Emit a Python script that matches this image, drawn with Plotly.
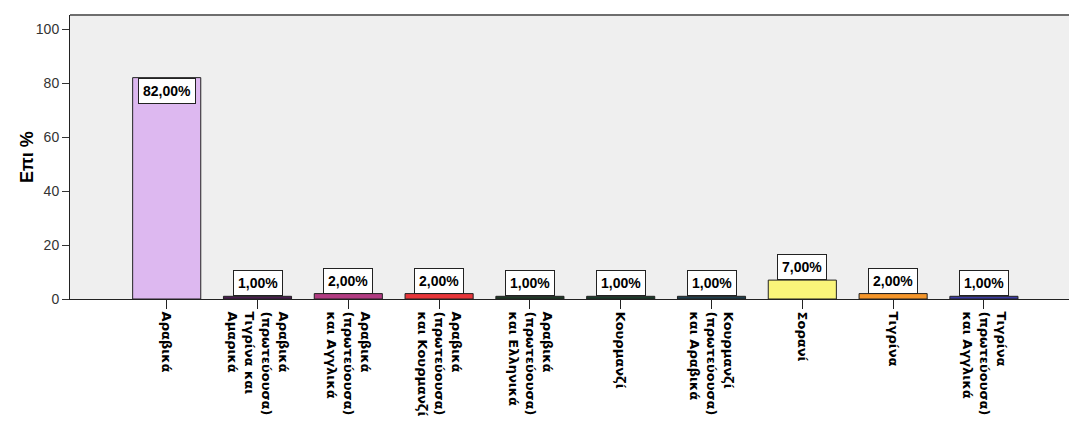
import plotly.graph_objects as go

# Languages spoken (first language in parentheses where applicable)
categories = [
    "Αραβικά",
    "Αραβικά<br>(πρωτεύουσα)<br>Τιγρίνα και<br>Αμαρικά",
    "Αραβικά<br>(πρωτεύουσα)<br>και Αγγλικά",
    "Αραβικά<br>(πρωτεύουσα)<br>και Κουρμανζί",
    "Αραβικά<br>(πρωτεύουσα)<br>και Ελληνικά",
    "Κουρμανζί",
    "Κουρμανζί<br>(πρωτεύουσα)<br>και Αραβικά",
    "Σορανί",
    "Τιγρίνα",
    "Τιγρίνα<br>(πρωτεύουσα)<br>και Αγγλικά",
]
percentages = [82, 1, 2, 2, 1, 1, 1, 7, 2, 1]
bar_colors = [
    "#DDB8F0", "#4A1C50", "#B23C82", "#E8363A", "#1E3A26",
    "#1A3C2A", "#1E3E4C", "#FAF57A", "#F5962A", "#3A3AA2",
]
y_ticks = [0, 20, 40, 60, 80, 100]
y_title = "Επι %"

x_idx = list(range(len(categories)))

fig = go.Figure(
    go.Bar(
        x=x_idx,
        y=percentages,
        width=0.75,
        marker=dict(color=bar_colors, line=dict(color="#222222", width=1)),
        hoverinfo="skip",
    )
)

# Value labels in white boxes: inside the tall bar, above the short ones
for i, v in zip(x_idx, percentages):
    inside = v > 20
    fig.add_annotation(
        x=i, y=v, xref="x", yref="y",
        text=f"{v:.2f}%".replace(".", ","),
        showarrow=False,
        yanchor="top" if inside else "bottom",
        font=dict(family="Liberation Sans, Arial", size=14, color="black", weight="bold"),
        bgcolor="white", bordercolor="#222222", borderwidth=1, borderpad=4,
    )

# Vertical y-axis title
fig.add_annotation(
    x=0, y=0.5, xref="paper", yref="paper",
    text=y_title, textangle=-90, showarrow=False,
    xanchor="center", yanchor="middle", xshift=-43,
    font=dict(family="Liberation Sans, Arial", size=18, color="black", weight="bold"),
)

# Upper frame line of the plot area
fig.add_shape(type="line", xref="paper", yref="paper", x0=0, x1=1, y0=1, y1=1,
              line=dict(color="#6E6E6E", width=2))

fig.update_layout(
    width=1069, height=423,
    margin=dict(l=70, r=0, t=15, b=124),
    paper_bgcolor="white",
    plot_bgcolor="#EFEFEF",
    showlegend=False,
    bargap=0.25,
    xaxis=dict(
        range=[-1.065, 9.937],
        tickmode="array", tickvals=x_idx, ticktext=categories,
        tickangle=90, automargin=False,
        ticks="outside", ticklen=9, tickcolor="#222222", tickwidth=1,
        showline=True, linecolor="#222222", linewidth=1,
        showgrid=False, zeroline=False,
        tickfont=dict(family="DejaVu Sans", size=13, color="black", weight="bold"),
    ),
    yaxis=dict(
        range=[0, 105.2],
        tickmode="array", tickvals=y_ticks, automargin=False,
        ticks="outside", ticklen=7, tickcolor="#333333", tickwidth=1,
        showline=True, linecolor="#222222", linewidth=1,
        showgrid=False, zeroline=False,
        tickfont=dict(family="Liberation Sans, Arial", size=14, color="#333333"),
    ),
)

fig.write_html("out.html")
